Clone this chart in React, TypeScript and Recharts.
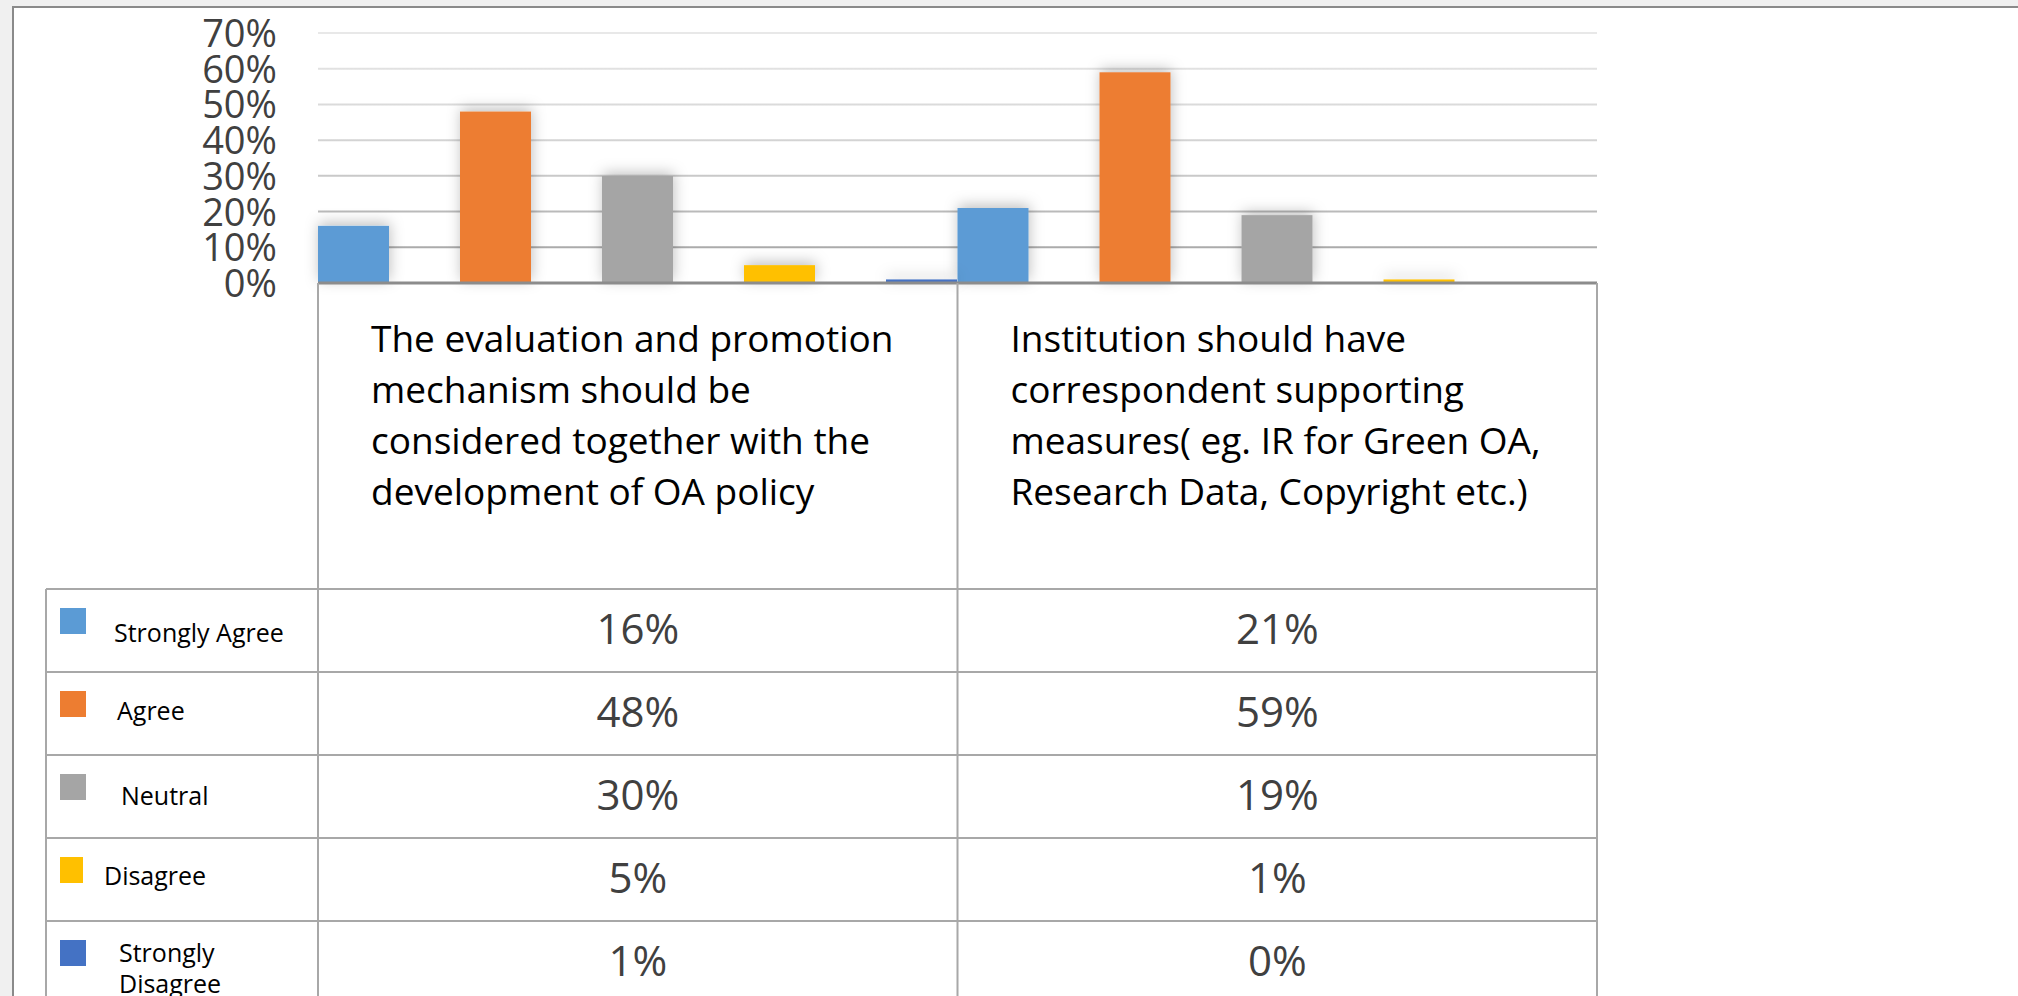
import React from 'react';
import { BarChart, Bar, XAxis, YAxis, CartesianGrid, Legend } from 'recharts';

// ---------- data ----------
const CATEGORY_LINES: string[][] = [
  ['The evaluation and promotion', 'mechanism should be', 'considered together with the', 'development of OA policy'],
  ['Institution should have', 'correspondent supporting', 'measures( eg. IR for Green OA,', 'Research Data, Copyright etc.)'],
];
const CATEGORIES = CATEGORY_LINES.map((l) => l.join(' '));
const SERIES_NAMES = ['Strongly Agree', 'Agree', 'Neutral', 'Disagree', 'Strongly Disagree'];
const STRONGLY_AGREE = [16, 21];
const AGREE = [48, 59];
const NEUTRAL = [30, 19];
const DISAGREE = [5, 1];
const STRONGLY_DISAGREE = [1, 0];
const Y_TICKS = [0, 10, 20, 30, 40, 50, 60, 70];

const SERIES_VALUES = [STRONGLY_AGREE, AGREE, NEUTRAL, DISAGREE, STRONGLY_DISAGREE];
const KEYS = ['s0', 's1', 's2', 's3', 's4'];
const data = CATEGORIES.map((c, i) => {
  const row: any = { category: c };
  KEYS.forEach((k, j) => {
    row[k] = SERIES_VALUES[j][i];
  });
  return row;
});

// ---------- styles / layout ----------
const COLORS = ['#5B9BD5', '#ED7D31', '#A5A5A5', '#FFC000', '#4472C4'];
const W = 2018;
const H = 996;
const FONT = "'Open Sans', 'Noto Sans', sans-serif";
const LINE = '#a8a8a8';
const ROW_H = 83;
const ROW0 = 306; // first data row top, relative to axis baseline
const LEGEND_LEFT = 46;
const LEGEND_TEXT_X = [68, 71, 75, 58, 73];
const LEGEND_TEXT_Y = [53, 48, 50, 47, 41];

const YTick = (props: any) => {
  const { x, y, payload } = props;
  return (
    <text x={x} y={y + 14} textAnchor="end" fontFamily={FONT} fontSize={38} fill="#404040">
      {`${payload.value}%`}
    </text>
  );
};

const TableColumn = (props: any) => {
  const { x, y, payload, index } = props;
  const half = payload && payload.offset ? payload.offset : 319.75;
  const left = x - half;
  const right = x + half;
  const idx = typeof index === 'number' ? index : 0;
  const lines = CATEGORY_LINES[idx] || [];
  const els: any[] = [];
  if (idx === 0) {
    els.push(<line key="vl" x1={left} x2={left} y1={y} y2={H} stroke={LINE} strokeWidth={2} />);
    els.push(<line key="lg" x1={LEGEND_LEFT} x2={LEGEND_LEFT} y1={y + ROW0} y2={H} stroke={LINE} strokeWidth={2} />);
  }
  els.push(<line key="vr" x1={right} x2={right} y1={y} y2={H} stroke={LINE} strokeWidth={2} />);
  SERIES_NAMES.forEach((_, r) => {
    const top = y + ROW0 + r * ROW_H;
    els.push(
      <line key={`h${r}`} x1={idx === 0 ? LEGEND_LEFT : left} x2={right} y1={top} y2={top} stroke={LINE} strokeWidth={2} />
    );
    const v = data[idx] ? data[idx][KEYS[r]] : 0;
    els.push(
      <text key={`v${r}`} x={x} y={top + 55} textAnchor="middle" fontFamily={FONT} fontSize={42} fill="#404040">
        {`${Math.round(v)}%`}
      </text>
    );
  });
  lines.forEach((t, i) => {
    els.push(
      <text key={`t${i}`} x={left + 53} y={y + 69 + i * 51} fontFamily={FONT} fontSize={37} fill="#000">
        {t}
      </text>
    );
  });
  return <g>{els}</g>;
};

const renderLegend = (props: any) => {
  const payload = [...(props.payload || [])].sort(
    (a: any, b: any) => SERIES_NAMES.indexOf(a.value) - SERIES_NAMES.indexOf(b.value)
  );
  return (
    <svg width={272} height={410} style={{ display: 'block' }}>
      {payload.map((p: any, i: number) => {
        const top = i * ROW_H;
        const name: string = p.value;
        const parts = name.length > 15 ? name.split(' ') : [name];
        return (
          <g key={name}>
            <rect x={14} y={top + 19} width={i === 3 ? 23 : 26} height={26} fill={p.color} />
            {parts.map((t, j) => (
              <text
                key={j}
                x={LEGEND_TEXT_X[i]}
                y={top + LEGEND_TEXT_Y[i] + j * 31}
                fontFamily={FONT}
                fontSize={25}
                fill="#000"
              >
                {t}
              </text>
            ))}
          </g>
        );
      })}
    </svg>
  );
};

const ShadowBar = (props: any) => {
  const { x, y, width, height, fill } = props;
  if (!height || height <= 0) return <g />;
  return <rect x={x} y={y} width={width} height={height} fill={fill} filter="url(#barShadow)" />;
};

export default function App() {
  return (
    <div
      style={{ position: 'fixed', left: 0, top: 0, width: W, height: H, background: '#f0f0f0', overflow: 'hidden' }}
    >
      <div
        style={{
          position: 'absolute',
          left: 12,
          top: 6,
          width: 2100,
          height: 1100,
          background: '#fff',
          borderLeft: '2px solid #8a8a8a',
          borderTop: '2px solid #8a8a8a',
        }}
      />
      <div style={{ position: 'absolute', left: 0, top: 0 }}>
        <BarChart
          width={W}
          height={H}
          data={data}
          margin={{ top: 33, right: 421, bottom: 0, left: 0 }}
          barCategoryGap={0}
          barGap={71}
          barSize={71}
        >
          <defs>
            <linearGradient id="gridGrad" gradientUnits="userSpaceOnUse" x1={0} y1={33} x2={0} y2={283}>
              <stop offset="0" stopColor="#e8e8e8" />
              <stop offset="0.5" stopColor="#d0d0d0" />
              <stop offset="1" stopColor="#9c9c9c" />
            </linearGradient>
            <filter id="barShadow" filterUnits="userSpaceOnUse" x={0} y={0} width={W} height={H}>
              <feDropShadow dx={1} dy={-3} stdDeviation={7} floodColor="#000" floodOpacity={0.25} />
            </filter>
          </defs>
          <CartesianGrid vertical={false} stroke="url(#gridGrad)" strokeWidth={2} />
          <YAxis
            width={318}
            domain={[0, 70]}
            ticks={Y_TICKS}
            interval={0}
            axisLine={false}
            tickLine={false}
            tickSize={0}
            tickMargin={41}
            tick={<YTick />}
          />
          <XAxis
            dataKey="category"
            height={713}
            interval={0}
            tickLine={false}
            tickSize={0}
            tickMargin={0}
            axisLine={{ stroke: '#8c8c8c', strokeWidth: 3 }}
            tick={<TableColumn />}
          />
          {KEYS.map((k, j) => (
            <Bar
              key={k}
              dataKey={k}
              name={SERIES_NAMES[j]}
              fill={COLORS[j]}
              isAnimationActive={false}
              shape={<ShadowBar />}
            />
          ))}
          <Legend
            layout="vertical"
            align="center"
            verticalAlign="middle"
            content={renderLegend}
            wrapperStyle={{ left: LEGEND_LEFT, top: 589, width: 272, height: 410 }}
          />
        </BarChart>
      </div>
    </div>
  );
}
